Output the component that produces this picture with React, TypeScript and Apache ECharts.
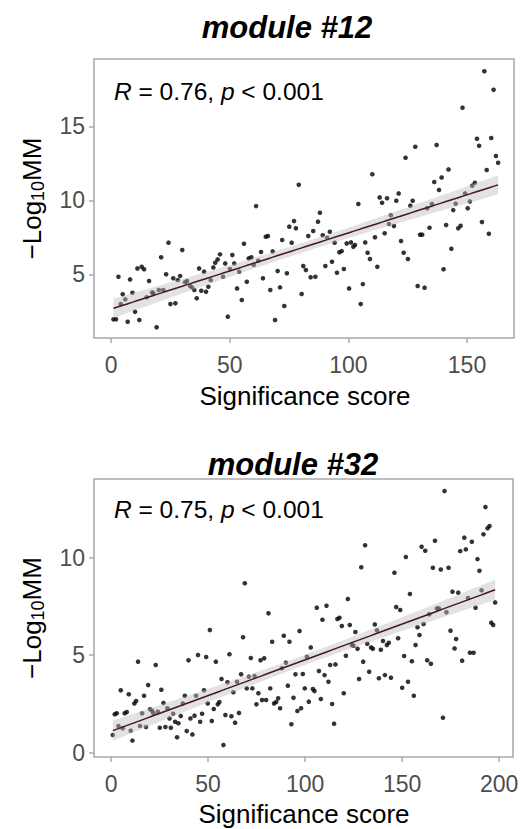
import React, { useEffect, useRef } from 'react';
import * as echarts from 'echarts';

// ---------- data: module #12 ----------
const x12 = [
  1.0, 2.1, 3.1, 4.1, 4.9, 6.0, 7.0, 8.0, 9.0, 10.1, 11.1, 11.9, 12.9, 13.9, 15.0, 16.0, 17.3, 17.8, 19.2, 20.1,
  21.1, 22.0, 23.2, 24.2, 25.0, 27.1, 26.2, 28.1, 29.1, 30.0, 31.2, 32.0, 33.3, 34.1, 35.1, 36.1, 37.1, 38.0, 40.0, 39.2,
  41.0, 42.0, 43.1, 43.9, 44.9, 45.9, 47.2, 48.1, 49.2, 50.1, 51.1, 51.9, 53.1, 54.0, 55.1, 56.0, 57.2, 58.0, 59.1, 60.1,
  61.1, 62.0, 63.2, 64.0, 65.2, 66.1, 67.1, 68.1, 69.1, 70.2, 71.2, 72.1, 73.0, 74.1, 75.1, 77.1, 76.1, 77.9, 79.1,
  80.3, 81.0, 82.1, 83.1, 84.1, 86.1, 85.2, 87.2, 88.0, 89.2, 90.3, 91.1, 92.2, 93.1, 94.2, 95.2, 96.2, 97.2, 98.1, 99.3,
  101.1, 100.3, 102.1, 102.8, 104.2, 105.2, 106.1, 107.1, 108.1, 109.1, 110.1, 111.2, 112.2, 113.2, 114.2, 116.3, 115.3, 117.1, 117.9, 119.2,
  120.2, 121.2, 122.2, 123.3, 124.1, 125.1, 126.1, 127.1, 128.2, 129.2, 132.1, 130.2, 131.1, 133.2, 134.2, 135.2, 136.2, 137.2, 138.2, 139.3,
  140.1, 141.2, 142.2, 143.4, 144.2, 145.2, 146.3, 147.3, 148.1, 149.2, 150.3, 151.2, 152.2, 153.3, 154.2, 155.1, 156.3, 157.3, 158.3, 159.2,
  160.2, 161.2, 162.2, 163.1
];
const y12 = [
  1.96, 1.96, 4.84, 2.99, 3.65, 3.31, 1.80, 4.66, 3.76, 2.47, 5.40, 1.91, 5.51, 5.34, 3.45, 4.55, 3.78, 3.73, 1.42, 3.94,
  6.15, 3.94, 5.00, 7.14, 2.99, 3.04, 4.73, 4.61, 4.89, 6.64, 4.46, 4.55, 4.21, 4.12, 3.94, 3.38, 5.40, 3.89, 3.82, 5.18,
  4.16, 4.61, 5.47, 5.79, 6.01, 6.35, 4.84, 5.74, 2.14, 5.36, 6.30, 5.74, 4.05, 5.18, 3.26, 7.07, 4.50, 6.08, 6.15, 5.63,
  9.61, 5.92, 6.51, 4.73, 7.54, 7.59, 3.94, 6.55, 1.91, 5.22, 4.12, 7.32, 2.86, 5.07, 8.22, 8.60, 7.14, 8.11, 11.05,
  3.67, 5.56, 5.29, 7.59, 4.80, 4.84, 7.93, 8.56, 9.16, 7.64, 5.56, 7.47, 7.88, 5.85, 7.14, 5.11, 6.49, 6.57, 5.36, 7.09,
  7.16, 4.05, 6.86, 6.98, 9.75, 2.99, 4.34, 7.16, 6.46, 6.03, 11.76, 7.50, 5.51, 10.20, 9.84, 10.14, 7.77, 8.40, 9.00, 8.26,
  9.97, 10.47, 7.25, 6.46, 12.88, 6.03, 9.64, 9.97, 13.62, 4.21, 4.10, 7.68, 7.68, 9.46, 8.15, 9.75, 11.24, 13.74, 10.70, 11.55,
  5.34, 8.33, 12.09, 6.73, 9.34, 9.77, 8.11, 8.28, 16.26, 10.47, 9.46, 9.93, 10.99, 11.19, 14.16, 13.69, 8.53, 18.72, 12.05, 7.74,
  14.21, 17.47, 12.99, 12.54
];

// ---------- data: module #32 ----------
const x32 = [
  0.9, 1.9, 2.9, 3.8, 5.0, 6.0, 7.0, 8.1, 9.1, 10.1, 11.0, 12.0, 12.9, 13.9, 14.9, 16.0, 17.0, 18.0, 19.1, 20.1,
  21.1, 21.8, 23.0, 24.1, 25.1, 25.9, 27.0, 28.0, 29.0, 30.1, 30.8, 32.0, 33.0, 34.7, 34.0, 35.9, 37.0, 38.0, 39.0, 39.9,
  40.9, 41.9, 43.0, 43.8, 44.8, 45.9, 46.9, 47.9, 49.0, 49.8, 50.9, 51.9, 52.9, 54.0, 55.0, 55.8, 56.9, 57.9, 58.9, 60.0,
  61.0, 62.0, 63.0, 63.9, 64.9, 65.9, 67.0, 68.0, 68.9, 69.9, 71.0, 72.0, 72.8, 73.9, 74.9, 75.9, 77.0, 78.9, 77.8, 79.9,
  81.1, 82.0, 83.0, 84.0, 85.1, 86.1, 87.1, 88.0, 89.0, 90.1, 91.1, 91.9, 92.9, 94.0, 95.0, 96.0, 97.1, 97.9, 98.8, 99.8,
  100.9, 101.9, 102.9, 104.0, 104.8, 106.0, 107.1, 108.1, 108.9, 110.0, 111.0, 112.0, 112.9, 115.6, 113.9, 114.9, 116.6, 117.7, 118.9, 119.9,
  121.0, 122.0, 123.0, 124.1, 124.9, 125.9, 127.0, 127.8, 128.9, 129.9, 130.9, 132.0, 133.0, 134.0, 134.9, 135.9, 137.0, 138.0, 139.0, 140.1,
  141.1, 142.1, 143.1, 144.2, 146.0, 146.9, 149.0, 147.9, 150.0, 151.0, 151.9, 153.0, 154.0, 155.0, 156.0, 156.9, 157.9, 158.9, 160.0, 161.9,
  161.0, 162.9, 164.8, 163.9, 165.8, 166.9, 167.9, 168.9, 169.9, 171.0, 171.8, 172.8, 173.9, 174.9, 175.9, 178.9, 177.0, 177.8, 179.9, 182.8,
  180.9, 182.0, 183.9, 184.9, 186.8, 185.9, 187.8, 188.8, 189.8, 190.9, 191.9, 192.9, 194.0, 195.0, 195.9, 196.9, 197.9
];
const y32 = [
  0.91, 1.97, 2.02, 1.37, 3.20, 1.25, 2.02, 2.09, 3.00, 1.13, 0.62, 2.53, 2.65, 4.67, 1.37, 2.02, 2.92, 1.32, 3.47, 2.23,
  2.15, 2.02, 4.50, 2.10, 1.28, 3.23, 2.55, 1.32, 2.28, 1.76, 1.28, 2.00, 1.59, 1.51, 0.79, 1.88, 2.53, 2.92, 1.11, 4.74,
  1.76, 0.94, 1.90, 2.92, 5.01, 1.59, 2.00, 3.20, 4.91, 2.53, 6.29, 1.63, 2.24, 4.67, 2.48, 2.60, 3.78, 0.39, 1.93, 3.61,
  5.05, 1.87, 3.10, 1.54, 3.64, 2.04, 4.02, 5.92, 8.69, 3.30, 3.90, 4.86, 3.30, 3.93, 2.48, 3.05, 4.74, 4.84, 2.70, 2.70,
  7.15, 3.30, 5.69, 2.53, 2.60, 2.79, 2.28, 4.33, 6.00, 4.62, 3.44, 5.69, 1.46, 2.82, 4.02, 2.14, 6.24, 2.28, 4.04, 3.30,
  4.92, 2.62, 5.40, 3.27, 3.16, 7.44, 4.19, 2.75, 6.82, 3.98, 7.54, 3.64, 4.50, 4.53, 2.50, 1.49, 6.86, 6.92, 6.50, 3.05,
  4.97, 7.88, 6.55, 5.52, 5.49, 6.19, 5.33, 3.78, 9.51, 4.67, 10.64, 5.59, 4.15, 5.40, 5.33, 6.58, 6.28, 3.82, 5.28, 5.73,
  3.98, 5.52, 5.64, 3.85, 9.23, 7.47, 7.32, 5.87, 3.33, 4.96, 10.04, 3.64, 8.14, 4.69, 2.92, 5.52, 6.43, 6.04, 10.56, 10.36,
  6.60, 4.74, 4.56, 7.10, 9.49, 10.87, 7.40, 7.40, 9.40, 1.79, 13.42, 7.20, 9.49, 6.26, 8.26, 8.21, 5.35, 5.83, 10.34, 10.43,
  4.72, 11.03, 7.93, 5.13, 5.13, 10.82, 7.44, 9.93, 9.33, 8.33, 11.20, 12.60, 11.51, 11.63, 6.67, 6.55, 7.71
];

// ---------- labels ----------
const panelTitles = ['module #12', 'module #32'];
const rValues = ['0.76', '0.75'];
const pValues = ['0.001', '0.001'];
const xAxisTitle = 'Significance score';
const xTicks12 = [0, 50, 100, 150];
const yTicks12 = [5, 10, 15];
const xTicks32 = [0, 50, 100, 150, 200];
const yTicks32 = [0, 5, 10];

const FONT = '"Liberation Sans", Arial, Helvetica, sans-serif';

// linear model fit + 95% confidence band (as geom_smooth(method = "lm"))
function lmFit(xs: number[], ys: number[]) {
  const n = xs.length;
  const mx = xs.reduce((a, b) => a + b, 0) / n;
  const my = ys.reduce((a, b) => a + b, 0) / n;
  let sxx = 0, sxy = 0;
  for (let i = 0; i < n; i++) {
    sxx += (xs[i] - mx) * (xs[i] - mx);
    sxy += (xs[i] - mx) * (ys[i] - my);
  }
  const b = sxy / sxx;
  const a = my - b * mx;
  let sse = 0;
  for (let i = 0; i < n; i++) {
    const r = ys[i] - (a + b * xs[i]);
    sse += r * r;
  }
  const s = Math.sqrt(sse / (n - 2));
  const t = 1.975;
  const lo = Math.min(...xs);
  const hi = Math.max(...xs);
  const line: number[][] = [];
  const upper: number[][] = [];
  const lower: number[][] = [];
  const steps = 80;
  for (let k = 0; k <= steps; k++) {
    const x = lo + ((hi - lo) * k) / steps;
    const yh = a + b * x;
    const se = s * Math.sqrt(1 / n + ((x - mx) * (x - mx)) / sxx);
    line.push([x, yh]);
    upper.push([x, yh + t * se]);
    lower.push([x, yh - t * se]);
  }
  return { line, upper, lower };
}

function panelSeries(xs: number[], ys: number[], idx: number) {
  const fit = lmFit(xs, ys);
  const pts = xs.map((x, i) => [x, ys[i]]);
  return [
    {
      type: 'scatter',
      xAxisIndex: idx,
      yAxisIndex: idx,
      data: pts,
      symbol: 'circle',
      symbolSize: 4.6,
      itemStyle: { color: '#000000' },
      z: 2,
      silent: true,
    },
    {
      type: 'custom',
      xAxisIndex: idx,
      yAxisIndex: idx,
      data: [[fit.line[0][0], fit.line[0][1]]],
      z: 3,
      silent: true,
      renderItem: (_params: any, api: any) => {
        const poly = fit.upper
          .map((p) => api.coord(p))
          .concat(fit.lower.slice().reverse().map((p) => api.coord(p)));
        return {
          type: 'polygon',
          shape: { points: poly },
          style: { fill: 'rgba(190,190,190,0.45)' },
        };
      },
    },
    {
      type: 'line',
      xAxisIndex: idx,
      yAxisIndex: idx,
      data: fit.line,
      symbol: 'none',
      lineStyle: { color: '#4a1818', width: 1.5 },
      z: 4,
      silent: true,
    },
  ];
}

function axisCommon(ticks: number[]) {
  return {
    type: 'value',
    axisLine: { show: false, onZero: false },
    axisTick: {
      show: true,
      length: 5,
      customValues: ticks,
      lineStyle: { color: '#ababab', width: 1.5 },
    },
    splitLine: { show: false },
  };
}

export default function App() {
  const ref = useRef<HTMLDivElement>(null);

  useEffect(() => {
    if (!ref.current) return;
    const chart = echarts.init(ref.current, undefined, { renderer: 'svg' });

    const grids = [
      { left: 94, top: 59, width: 420, height: 279 },
      { left: 94, top: 479, width: 419, height: 278 },
    ];

    const titleText = (text: string, x: number, y: number) => ({
      type: 'text',
      x,
      y,
      style: {
        text,
        fill: '#000000',
        fontFamily: FONT,
        fontSize: 31,
        fontWeight: 'bold',
        fontStyle: 'italic',
        align: 'center',
        verticalAlign: 'middle',
        textAlign: 'center',
        textVerticalAlign: 'middle',
      },
    });

    const xTitle = (x: number, y: number) => ({
      type: 'text',
      x,
      y,
      style: {
        text: xAxisTitle,
        fill: '#000000',
        fontFamily: FONT,
        fontSize: 26,
        align: 'center',
        verticalAlign: 'middle',
        textAlign: 'center',
        textVerticalAlign: 'middle',
      },
    });

    const yTitle = (x: number, y: number) => ({
      type: 'text',
      x,
      y,
      rotation: Math.PI / 2,
      style: {
        text: '{n|\u2212Log}{s|10}{n|MM}',
        fill: '#000000',
        fontFamily: FONT,
        fontSize: 26,
        align: 'center',
        verticalAlign: 'middle',
        textAlign: 'center',
        textVerticalAlign: 'middle',
        rich: {
          n: { fontFamily: FONT, fontSize: 26, fill: '#000000', verticalAlign: 'top', lineHeight: 28 },
          s: { fontFamily: FONT, fontSize: 18, fill: '#000000', verticalAlign: 'bottom', lineHeight: 18, padding: [16, 0, 0, 0] },
        },
      },
    });

    const statText = (i: number, x: number, y: number) => ({
      type: 'text',
      x,
      y,
      style: {
        text: `{i|R}{n| = ${rValues[i]}, }{i|p}{n| < ${pValues[i]}}`,
        fill: '#000000',
        fontFamily: FONT,
        fontSize: 24.5,
        align: 'left',
        verticalAlign: 'middle',
        textAlign: 'left',
        textVerticalAlign: 'middle',
        rich: {
          i: { fontFamily: FONT, fontSize: 24.5, fontStyle: 'italic', fill: '#000000' },
          n: { fontFamily: FONT, fontSize: 24.5, fill: '#000000' },
        },
      },
    });

    const option: any = {
      animation: false,
      backgroundColor: '#ffffff',
      grid: grids.map((g) => ({
        ...g,
        show: true,
        borderColor: '#ababab',
        borderWidth: 1.6,
        backgroundColor: '#ffffff',
        containLabel: false,
      })),
      xAxis: [
        {
          ...axisCommon(xTicks12),
          gridIndex: 0,
          min: -7.2,
          max: 169.8,
          axisLabel: {
            customValues: xTicks12,
            fontFamily: FONT,
            fontSize: 23,
            color: '#4d4d4d',
            margin: 15,
          },
        },
        {
          ...axisCommon(xTicks32),
          gridIndex: 1,
          min: -8.8,
          max: 207.1,
          axisLabel: {
            customValues: xTicks32,
            fontFamily: FONT,
            fontSize: 23,
            color: '#4d4d4d',
            margin: 15,
          },
        },
      ],
      yAxis: [
        {
          ...axisCommon(yTicks12),
          gridIndex: 0,
          min: 0.7,
          max: 19.55,
          axisLabel: {
            customValues: yTicks12,
            fontFamily: FONT,
            fontSize: 23,
            color: '#4d4d4d',
            margin: 9,
          },
        },
        {
          ...axisCommon(yTicks32),
          gridIndex: 1,
          min: -0.22,
          max: 14.04,
          axisLabel: {
            customValues: yTicks32,
            fontFamily: FONT,
            fontSize: 23,
            color: '#4d4d4d',
            margin: 9,
          },
        },
      ],
      series: [...panelSeries(x12, y12, 0), ...panelSeries(x32, y32, 1)],
      graphic: [
        titleText(panelTitles[0], 287, 27),
        titleText(panelTitles[1], 293, 464),
        xTitle(305, 396),
        xTitle(304, 814),
        yTitle(33, 198.5),
        yTitle(33, 618),
        statText(0, 114, 91.5),
        statText(1, 114, 509.5),
      ],
    };

    chart.setOption(option);
    return () => chart.dispose();
  }, []);

  return (
    <div
      ref={ref}
      style={{ position: 'fixed', left: 0, top: 0, width: 522, height: 829, background: '#ffffff' }}
    />
  );
}
